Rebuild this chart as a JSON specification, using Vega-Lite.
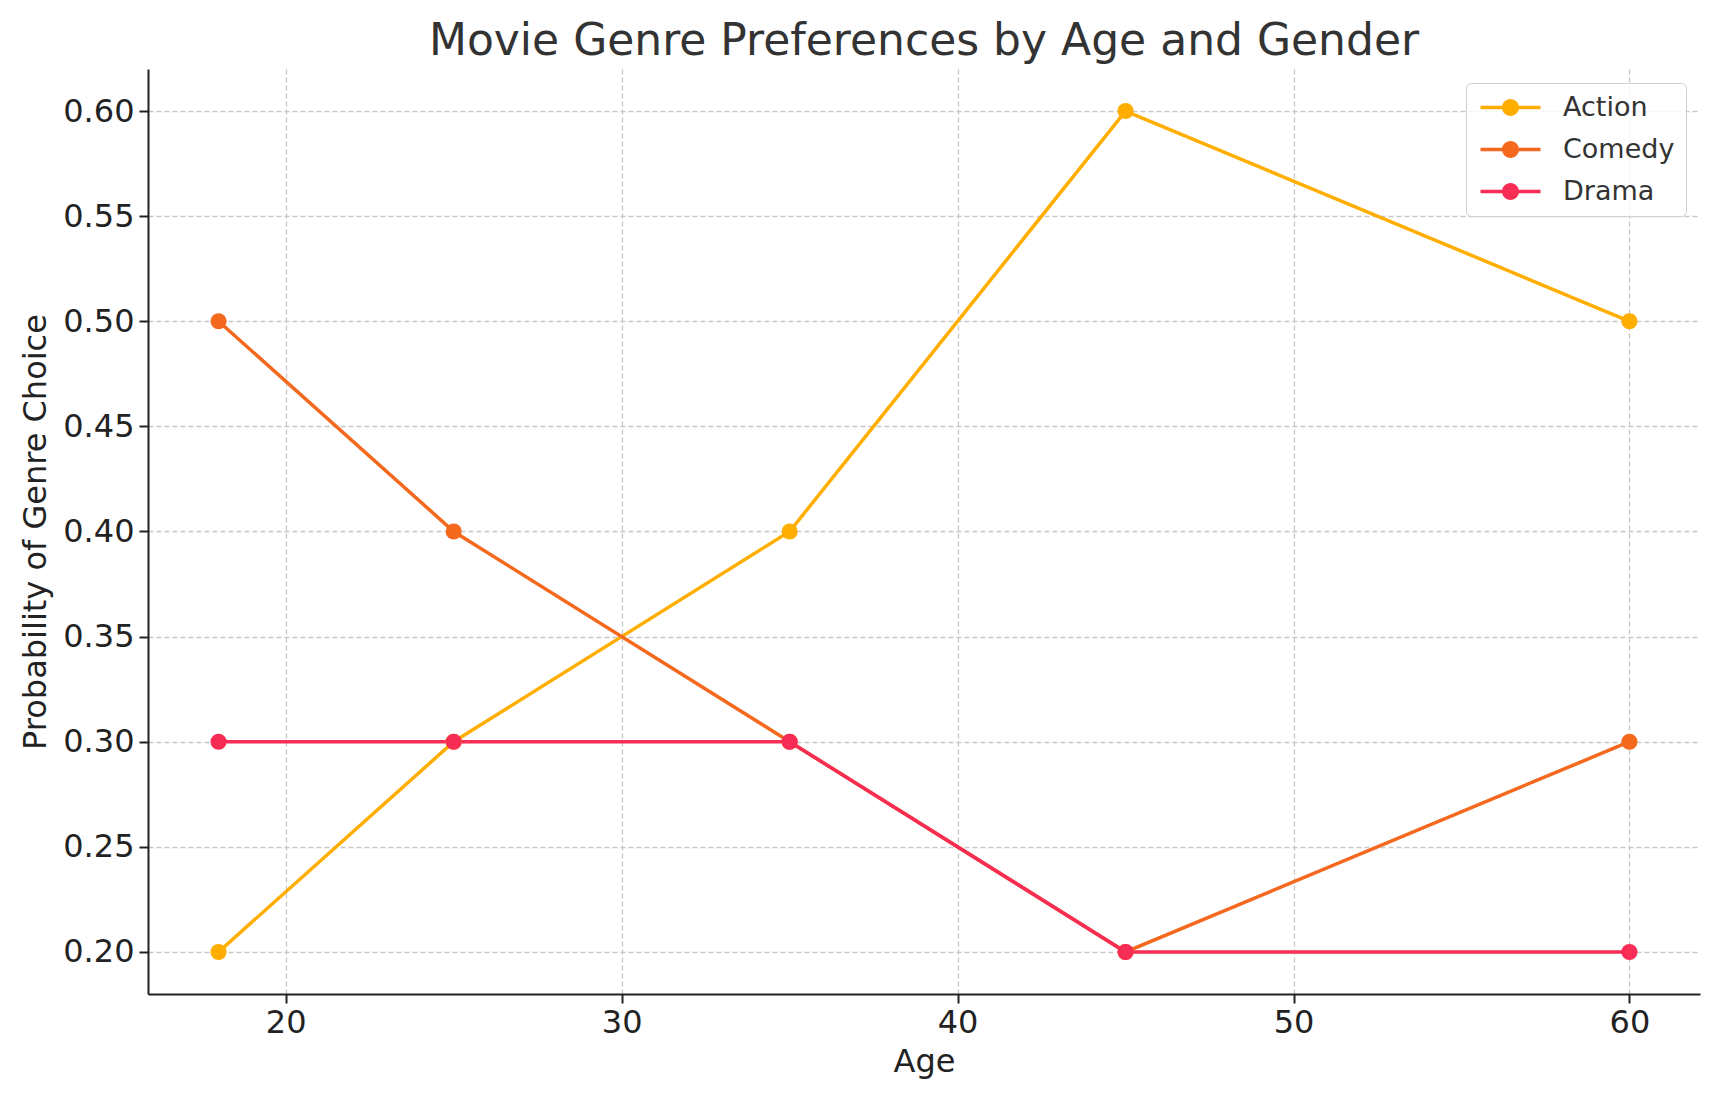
{
  "$schema": "https://vega.github.io/schema/vega-lite/v6.json",
  "width": 1552,
  "height": 925,
  "autosize": {"type": "none"},
  "padding": {"left": 148, "top": 69, "right": 18, "bottom": 107},
  "background": "white",
  "config": {
    "view": {"stroke": null},
    "font": "DejaVu Sans",
    "axis": {
      "domainColor": "#222222",
      "domainWidth": 2,
      "tickColor": "#222222",
      "tickWidth": 2,
      "tickSize": 9,
      "labelFont": "DejaVu Sans",
      "labelFontSize": 32,
      "labelColor": "#222222",
      "titleFont": "DejaVu Sans",
      "titleFontSize": 32,
      "titleFontWeight": "normal",
      "titleColor": "#222222",
      "grid": true,
      "gridColor": "#c8c8c8",
      "gridDash": [5, 3],
      "gridWidth": 1.3
    }
  },
  "title": {
    "text": "Movie Genre Preferences by Age and Gender",
    "font": "DejaVu Sans",
    "fontSize": 44,
    "fontWeight": "normal",
    "color": "#333333",
    "anchor": "middle",
    "offset": 5
  },
  "data": {
    "values": [
      {"age": 18, "genre": "Action", "prob": 0.2},
      {"age": 25, "genre": "Action", "prob": 0.3},
      {"age": 35, "genre": "Action", "prob": 0.4},
      {"age": 45, "genre": "Action", "prob": 0.6},
      {"age": 60, "genre": "Action", "prob": 0.5},
      {"age": 18, "genre": "Comedy", "prob": 0.5},
      {"age": 25, "genre": "Comedy", "prob": 0.4},
      {"age": 35, "genre": "Comedy", "prob": 0.3},
      {"age": 45, "genre": "Comedy", "prob": 0.2},
      {"age": 60, "genre": "Comedy", "prob": 0.3},
      {"age": 18, "genre": "Drama", "prob": 0.3},
      {"age": 25, "genre": "Drama", "prob": 0.3},
      {"age": 35, "genre": "Drama", "prob": 0.3},
      {"age": 45, "genre": "Drama", "prob": 0.2},
      {"age": 60, "genre": "Drama", "prob": 0.2}
    ]
  },
  "encoding": {
    "x": {
      "field": "age",
      "type": "quantitative",
      "title": "Age",
      "scale": {"domain": [15.9, 62.1], "nice": false, "zero": false},
      "axis": {"values": [20, 30, 40, 50, 60], "labelPadding": 4, "titlePadding": 8}
    },
    "y": {
      "field": "prob",
      "type": "quantitative",
      "title": "Probability of Genre Choice",
      "scale": {"domain": [0.18, 0.62], "nice": false, "zero": false},
      "axis": {
        "values": [0.2, 0.25, 0.3, 0.35, 0.4, 0.45, 0.5, 0.55, 0.6],
        "format": ".2f",
        "labelPadding": 5,
        "titlePadding": 10
      }
    },
    "color": {
      "field": "genre",
      "type": "nominal",
      "scale": {
        "domain": ["Action", "Comedy", "Drama"],
        "range": ["#FFAE00", "#F4691E", "#F72D55"]
      },
      "legend": {
        "title": null,
        "orient": "top-right",
        "offset": 14,
        "padding": 11,
        "strokeColor": "#d0d0d0",
        "fillColor": "rgba(255,255,255,0.8)",
        "cornerRadius": 5,
        "labelFont": "DejaVu Sans",
        "labelFontSize": 27,
        "labelColor": "#333333",
        "symbolType": "M-3,-0.17H3V0.17H-3Z M-0.85,0A0.85,0.85 0 1,1 0.85,0A0.85,0.85 0 1,1 -0.85,0Z",
        "symbolSize": 400,
        "symbolOffset": 20,
        "symbolStrokeWidth": 0,
        "labelOffset": 39,
        "rowPadding": 14,
        "encode": {
          "symbols": {
            "update": {
              "fill": {"scale": "color", "field": "value"},
              "stroke": {"value": "transparent"},
              "strokeWidth": {"value": 0},
              "opacity": {"value": 1}
            }
          }
        }
      }
    }
  },
  "layer": [
    {"mark": {"type": "line", "strokeWidth": 3.5}},
    {"mark": {"type": "point", "filled": true, "shape": "circle", "size": 260, "opacity": 1}}
  ]
}
